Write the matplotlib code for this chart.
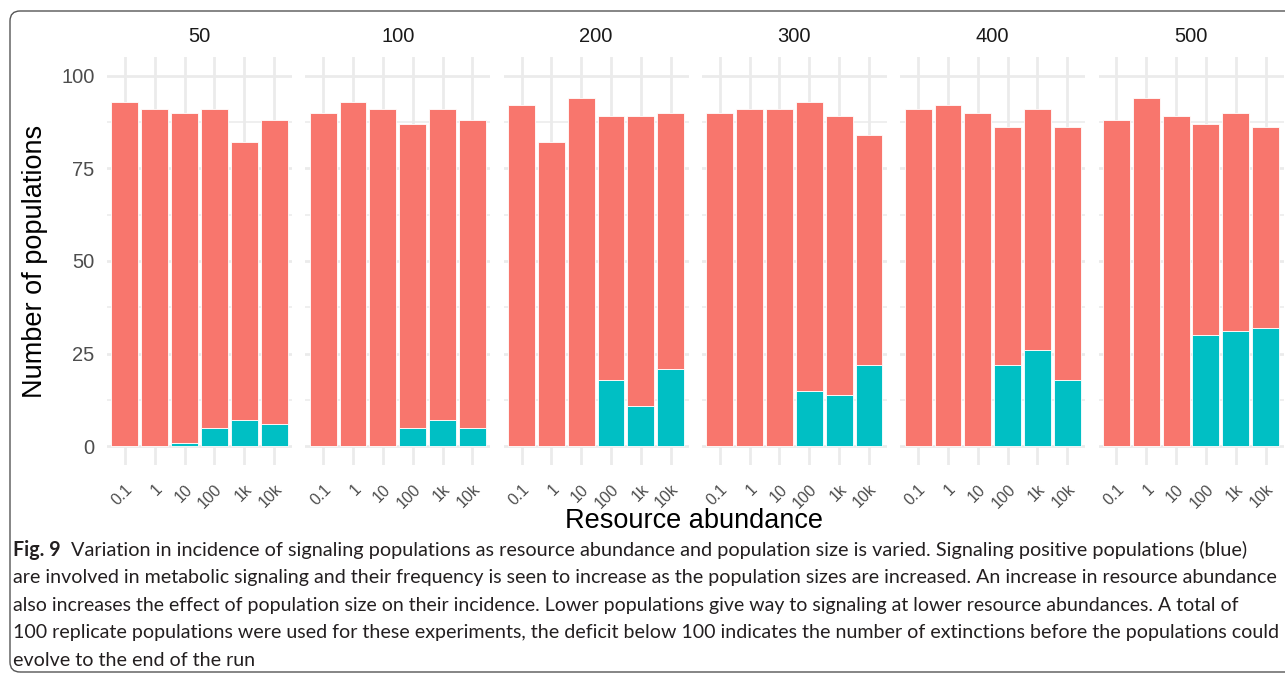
import numpy as np
import matplotlib
matplotlib.use('Agg')
import matplotlib.pyplot as plt
from matplotlib.patches import FancyBboxPatch
from matplotlib.transforms import IdentityTransform

# data
pop_sizes = ['50', '100', '200', '300', '400', '500']
abundance = ['0.1', '1', '10', '100', '1k', '10k']

total_pops = {
    '50':  [93, 91, 90, 91, 82, 88],
    '100': [90, 93, 91, 87, 91, 88],
    '200': [92, 82, 94, 89, 89, 90],
    '300': [90, 91, 91, 93, 89, 84],
    '400': [91, 92, 90, 86, 91, 86],
    '500': [88, 94, 89, 87, 90, 86],
}
signaling_pops = {
    '50':  [0, 0, 1, 5, 7, 6],
    '100': [0, 0, 0, 5, 7, 5],
    '200': [0, 0, 0, 18, 11, 21],
    '300': [0, 0, 0, 15, 14, 22],
    '400': [0, 0, 0, 22, 26, 18],
    '500': [0, 0, 0, 30, 31, 32],
}

caption_lines = [
    "Variation in incidence of signaling populations as resource abundance and population size is varied. Signaling positive populations (blue)",
    "are involved in metabolic signaling and their frequency is seen to increase as the population sizes are increased. An increase in resource abundance",
    "also increases the effect of population size on their incidence. Lower populations give way to signaling at lower resource abundances. A total of",
    "100 replicate populations were used for these experiments, the deficit below 100 indicates the number of extinctions before the populations could",
    "evolve to the end of the run",
]
# where each full caption line ends in the reference (pixels); last line is short
caption_right = [1245, 1273, 1239, 1273]

RED = '#F8766D'
BLUE = '#00BFC4'
W, H = 1285, 676

plt.rcParams['font.family'] = ['Liberation Sans', 'DejaVu Sans']
fig = plt.figure(figsize=(W / 100, H / 100), dpi=100)

# panel geometry in pixels
panel_left0 = 107
panel_step = 198.3
panel_w = 185
panel_top = 57
panel_bot = 465

x = np.arange(len(abundance))
for i, ps in enumerate(pop_sizes):
    left = panel_left0 + i * panel_step
    ax = fig.add_axes([left / W, 1 - panel_bot / H, panel_w / W, (panel_bot - panel_top) / H])
    tot = np.array(total_pops[ps])
    sig = np.array(signaling_pops[ps])
    ax.bar(x, sig, width=0.9, color=BLUE, edgecolor='white', linewidth=0.6, zorder=3)
    ax.bar(x, tot - sig, bottom=sig, width=0.9, color=RED, edgecolor='white', linewidth=0.6, zorder=3)
    ax.set_xlim(-0.6, len(abundance) - 0.4)
    ax.set_ylim(-5, 105)
    ax.set_yticks([0, 25, 50, 75, 100])
    ax.set_yticks([12.5, 37.5, 62.5, 87.5], minor=True)
    ax.set_xticks(x)
    ax.set_xticklabels(abundance, rotation=45, ha='right', va='top', rotation_mode='anchor',
                       fontsize=11.5, color='#4D4D4D')
    ax.grid(True, which='major', color='#EBEBEB', linewidth=2.0, zorder=0)
    ax.grid(True, which='minor', axis='y', color='#EBEBEB', linewidth=1.1, zorder=0)
    ax.tick_params(axis='both', which='both', length=0)
    ax.tick_params(axis='x', pad=12)
    ax.tick_params(axis='y', pad=9, labelsize=14.5, labelcolor='#4D4D4D')
    if i > 0:
        ax.set_yticklabels([])
    for s in ax.spines.values():
        s.set_visible(False)
    ax.set_axisbelow(True)
    ax.set_title(ps, fontsize=14.5, color='#1A1A1A', pad=11)

fig.text(35 / W, 1 - 261 / H, 'Number of populations', rotation=90, ha='center', va='center', fontsize=19.5)
fig.text(694 / W, 1 - 521 / H, 'Resource abundance', ha='center', va='center', fontsize=19.5)

# caption, full lines sized to end where the reference lines end
cap_font = 'Lato'
base_size = 14.6
cap_color = '#231F20'
cap_left = 13
y0 = 550
fig.canvas.draw()
renderer = fig.canvas.get_renderer()
bold = fig.text(cap_left / W, 1 - y0 / H, 'Fig. 9', fontsize=base_size, fontweight='bold', family=cap_font,
                color=cap_color, va='center', ha='left')
bb = bold.get_window_extent(renderer=renderer)
sizes = []
for k, line in enumerate(caption_lines):
    start = bb.x1 + 9 if k == 0 else cap_left
    t = fig.text(start / W, 1 - (y0 + k * 27.6) / H, line, fontsize=base_size, family=cap_font,
                 color=cap_color, va='center', ha='left')
    if k < len(caption_right):
        ext = t.get_window_extent(renderer=renderer)
        size = base_size * (caption_right[k] - start) / ext.width
        sizes.append(size)
    else:
        size = np.mean(sizes)
    t.set_fontsize(size)
bold.set_fontsize(np.mean(sizes))

# rounded frame around the figure
frame = FancyBboxPatch((10, 4), 1300, H - 15, boxstyle='round,pad=0,rounding_size=10',
                       transform=IdentityTransform(), fill=False, edgecolor='#555555', linewidth=1.0)
fig.patches.append(frame)

fig.savefig('out.png', dpi=100)
